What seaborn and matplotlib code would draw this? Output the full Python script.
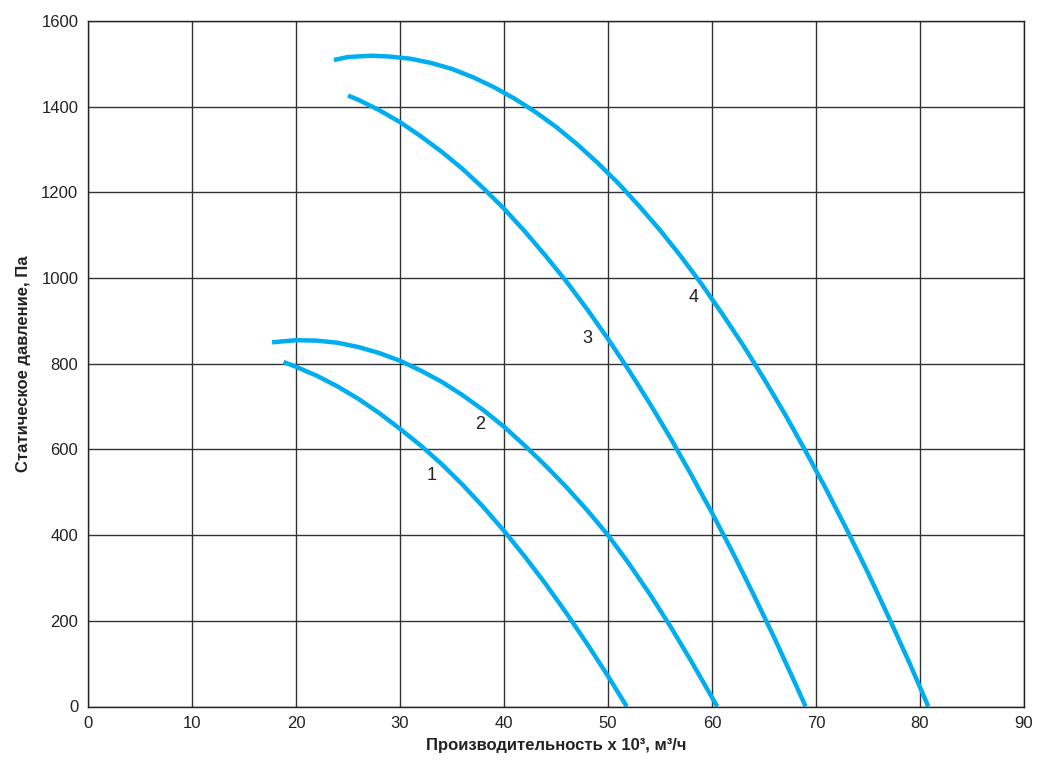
import matplotlib
matplotlib.use("Agg")
import matplotlib.pyplot as plt
import seaborn as sns
import pandas as pd

# Data (flow x10^3 m3/h, static pressure Pa)
curve1_x = [18.8, 20, 22, 24, 26, 28, 30, 32, 34, 36, 38, 40, 42, 44, 46, 48, 50, 51.8]
curve1_y = [804, 793, 772, 747, 718, 685, 648, 609, 566, 518, 466, 410, 350, 286, 218, 146, 71, 0]

curve2_x = [17.7, 20, 22, 24, 26, 28, 30, 32, 34, 36, 38, 40, 42, 44, 46, 48, 50, 52, 54, 56, 58, 60.5]
curve2_y = [850, 855, 854, 849, 839, 825, 807, 784, 758, 727, 692, 653, 609, 562, 512, 458, 400, 334, 263, 187, 106, 0]

curve3_x = [25, 26, 28, 30, 32, 34, 36, 38, 40, 42, 44, 46, 48, 50, 52, 54, 56, 58, 60, 62, 64, 66, 68, 69]
curve3_y = [1426, 1416, 1392, 1364, 1331, 1295, 1255, 1210, 1162, 1109, 1052, 992, 927, 858, 785, 708, 627, 541, 452, 359, 261, 160, 54, 0]

curve4_x = [23.65, 25, 27.3, 29, 31, 33, 35, 37, 39, 41, 43, 45, 47, 49, 51, 53, 55, 57, 59,
            61, 63, 65, 67, 69, 71, 73, 75, 77, 79, 80.8]
curve4_y = [1509, 1516, 1519, 1517, 1512, 1502, 1488, 1469, 1446, 1419, 1388, 1353, 1313, 1269,
            1221, 1168, 1112, 1051, 986, 916, 843, 765, 683, 596, 506, 411, 312, 208, 101, 0]

curve_names = ["1", "2", "3", "4"]
label_x = [33.0, 37.7, 48.0, 58.2]
label_y = [540, 659, 859, 955]

x_ticks = list(range(0, 91, 10))
y_ticks = list(range(0, 1601, 200))

x_label = "Производительность х 10³, м³/ч"
y_label = "Статическое давление, Па"

sns.set_style("white")
plt.rcParams["font.family"] = ["Liberation Sans", "DejaVu Sans"]

frames = []
for name, xs, ys in zip(curve_names,
                        [curve1_x, curve2_x, curve3_x, curve4_x],
                        [curve1_y, curve2_y, curve3_y, curve4_y]):
    frames.append(pd.DataFrame({"x": xs, "y": ys, "curve": name}))
df = pd.concat(frames, ignore_index=True)

fig = plt.figure(figsize=(10.52, 7.66), dpi=100)
ax = fig.add_axes([88 / 1052, 1 - 706.5 / 766, (1024 - 88) / 1052, (706.5 - 21) / 766])

line_color = "#00AEEF"
sns.lineplot(data=df, x="x", y="y", units="curve", estimator=None, sort=False,
             color=line_color, linewidth=3.2, ax=ax, legend=False,
             solid_capstyle="butt", solid_joinstyle="round")

for n, lx, ly in zip(curve_names, label_x, label_y):
    ax.text(lx, ly, n, fontsize=13, color="#222222", ha="center", va="center")

ax.set_xlim(0, 90)
ax.set_ylim(0, 1600)
ax.set_xticks(x_ticks)
ax.set_yticks(y_ticks)
ax.grid(True, color="#333333", linewidth=1.0)
ax.set_axisbelow(True)
for s in ax.spines.values():
    s.set_color("#222222")
    s.set_linewidth(1.0)
ax.tick_params(axis="both", direction="out", length=5, width=1, color="#222222",
               labelsize=12, labelcolor="#222222", pad=2)
ax.set_xlabel(x_label, fontsize=12, fontweight="bold", color="#222222", labelpad=5)
ax.set_ylabel(y_label, fontsize=12, fontweight="bold", color="#222222", labelpad=7)

fig.savefig("out.png", dpi=100)
